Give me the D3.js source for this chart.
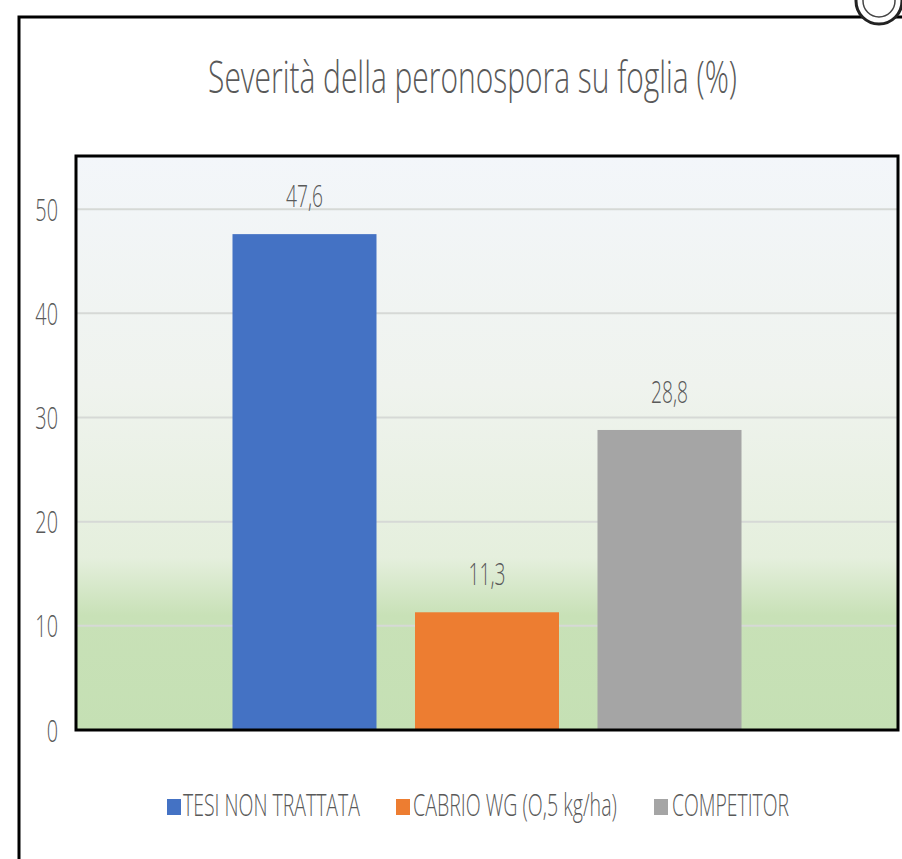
<!DOCTYPE html>
<html>
<head>
<meta charset="utf-8">
<script src="https://cdn.jsdelivr.net/npm/d3@7"></script>
<style>
  html, body { margin: 0; padding: 0; background: #fff; }
  svg { display: block; }
  text { font-family: "Open Sans", "Noto Sans", sans-serif; fill: #595959; font-weight: 360; }
</style>
</head>
<body>
<svg id="chart" width="902" height="859"></svg>
<script>
// ---- data ----
const categories = ["TESI NON TRATTATA", "CABRIO WG (O,5 kg/ha)", "COMPETITOR"];
const values = [47.6, 11.3, 28.8];
const yTicks = [0, 10, 20, 30, 40, 50];
const titleText = "Severità della peronospora su foglia (%)";

// ---- styles ----
const barColors = ["#4472C4", "#ED7D31", "#A5A5A5"];

const svg = d3.select("#chart");

// outer frame
svg.append("rect").attr("x", 19).attr("y", 17).attr("width", 920).attr("height", 900)
  .attr("fill", "#fff").attr("stroke", "#000").attr("stroke-width", 3);

// logo fragment top-right
svg.append("circle").attr("cx", 879).attr("cy", 1).attr("r", 23)
  .attr("fill", "#fff").attr("stroke", "#222").attr("stroke-width", 3);
svg.append("circle").attr("cx", 879).attr("cy", 1).attr("r", 16)
  .attr("fill", "none").attr("stroke", "#444").attr("stroke-width", 1.5);

const plot = { left: 76, right: 898, top: 156, bottom: 730 };

const y = d3.scaleLinear().domain([0, 55.1]).range([plot.bottom, plot.top]);
const x = d3.scaleBand().domain(categories).range([plot.left, plot.right])
  .paddingInner(0.211).paddingOuter(0.8575).align(0.5);

// gradient background
const defs = svg.append("defs");
const grad = defs.append("linearGradient").attr("id", "bg")
  .attr("x1", 0).attr("y1", 0).attr("x2", 0).attr("y2", 1);
[[0, "#f3f6fa"], [0.4, "#eff3ee"], [0.7, "#e5efdd"], [0.8, "#c8e1b7"], [1, "#c5e0b4"]]
  .forEach(([o, c]) => grad.append("stop").attr("offset", o).attr("stop-color", c));

svg.append("rect").attr("x", plot.left).attr("y", plot.top)
  .attr("width", plot.right - plot.left).attr("height", plot.bottom - plot.top)
  .attr("fill", "url(#bg)");

// gridlines
svg.append("g").selectAll("line").data(yTicks.filter(d => d > 0)).join("line")
  .attr("x1", plot.left).attr("x2", plot.right)
  .attr("y1", d => y(d)).attr("y2", d => y(d))
  .attr("stroke", "#d6d9d6").attr("stroke-width", 2);

// bars
svg.append("g").selectAll("rect").data(values).join("rect")
  .attr("x", (d, i) => x(categories[i]))
  .attr("width", x.bandwidth())
  .attr("y", d => y(d))
  .attr("height", d => y(0) - y(d))
  .attr("fill", (d, i) => barColors[i]);

// plot border
svg.append("rect").attr("x", plot.left).attr("y", plot.top)
  .attr("width", plot.right - plot.left).attr("height", plot.bottom - plot.top)
  .attr("fill", "none").attr("stroke", "#000").attr("stroke-width", 3);

// condensed text helper
function condText(parent, px, py, str, size, anchor, target, factor) {
  const g = parent.append("g");
  const t = g.append("text").attr("x", 0).attr("y", 0).attr("font-size", size)
    .attr("text-anchor", anchor).text(str);
  const len = t.node().getComputedTextLength();
  const s = target ? target / len : factor;
  g.attr("transform", `translate(${px},${py}) scale(${s},1)`);
  return g;
}

// y axis (scale-driven tick positions)
const yAxis = d3.axisLeft(y).tickValues(yTicks).tickSize(0).tickPadding(0)
  .tickFormat(d3.format("d"));
const gy = svg.append("g").attr("transform", `translate(58,0)`).call(yAxis);
gy.select(".domain").remove();
gy.selectAll(".tick text").remove();
gy.selectAll(".tick").each(function (d) {
  condText(d3.select(this), 0, 11, String(d), 32, "end", null, 0.62);
});

// value labels
const loc = d3.formatLocale({ decimal: ",", thousands: ".", grouping: [3], currency: ["", "€"] });
const fmt = loc.format(".1f");
const vl = svg.append("g");
values.forEach((d, i) => {
  condText(vl, x(categories[i]) + x.bandwidth() / 2, y(d) - 27, fmt(d), 31, "middle", null, 0.62);
});

// title
condText(svg, 472.5, 93, titleText, 44, "middle", 529, null);

// legend
const legendPos = [
  { sx: 167, tx: 183, tw: 177 },
  { sx: 396, tx: 413, tw: 204 },
  { sx: 654, tx: 672, tw: 117 }
];
const lg = svg.append("g");
categories.forEach((c, i) => {
  const p = legendPos[i];
  lg.append("rect").attr("x", p.sx).attr("y", 799).attr("width", 14).attr("height", 16)
    .attr("fill", barColors[i]);
  condText(lg, p.tx, 816, c, 32, "start", p.tw, null);
});
</script>
</body>
</html>
